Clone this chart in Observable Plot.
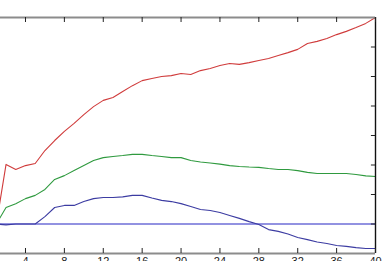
<!DOCTYPE html>
<html>
<head>
<meta charset="utf-8">
<script src="https://cdn.jsdelivr.net/npm/d3@7"></script>
<script src="https://cdn.jsdelivr.net/npm/@observablehq/plot@0.6"></script>
<style>
html, body { margin: 0; padding: 0; overflow: hidden; background: #fff; }
</style>
</head>
<body>
<div id="chart"></div>
<script>
const steps = d3.range(1, 41);
const redSeries = [0,2.02,1.85,1.98,2.05,2.49,2.83,3.14,3.41,3.71,3.98,4.19,4.29,4.49,4.69,4.86,4.93,5.00,5.03,5.10,5.07,5.20,5.27,5.37,5.44,5.41,5.47,5.54,5.61,5.71,5.81,5.92,6.12,6.19,6.29,6.42,6.53,6.66,6.80,7.00];
const greenSeries = [0,0.56,0.69,0.86,0.97,1.17,1.51,1.64,1.81,1.98,2.15,2.25,2.29,2.32,2.36,2.36,2.32,2.29,2.25,2.25,2.15,2.10,2.07,2.03,1.98,1.95,1.93,1.92,1.88,1.85,1.85,1.81,1.75,1.71,1.71,1.71,1.71,1.68,1.63,1.61];
const blueSeries = [0,-0.03,0,0,0,0.25,0.56,0.63,0.63,0.76,0.86,0.90,0.90,0.92,0.97,0.97,0.88,0.80,0.76,0.69,0.59,0.49,0.46,0.39,0.29,0.19,0.08,-0.02,-0.19,-0.25,-0.34,-0.46,-0.53,-0.61,-0.66,-0.73,-0.76,-0.80,-0.83,-0.83];
const baseline = [0];
const xTicks = [4, 8, 12, 16, 20, 24, 28, 32, 36, 40];
const yTicks = [0, 1, 2, 3, 4, 5, 6];
const xDomain = [0, 40];
const yDomain = [-1, 7];
const xTickLen = 0.17; // in y units
const yTickLen = 0.42; // in x units

const toRows = vals => steps.map((s, i) => ({x: s, y: vals[i]}));

const chart = Plot.plot({
  width: 385,
  height: 272,
  marginTop: 17,
  marginBottom: 19,
  marginLeft: 0,
  marginRight: 10,
  style: {fontFamily: "Liberation Sans, Arial, sans-serif", background: "#fff"},
  x: {domain: xDomain, range: [-13.9, 375]},
  y: {domain: yDomain, range: [253, 17], axis: null},
  marks: [
    Plot.ruleY(baseline, {y: d => d, stroke: "#2626c4", strokeWidth: 1.2}),
    Plot.line(toRows(redSeries), {x: "x", y: "y", stroke: "#d03c3c", strokeWidth: 1.1}),
    Plot.line(toRows(greenSeries), {x: "x", y: "y", stroke: "#2f9a3f", strokeWidth: 1.1}),
    Plot.line(toRows(blueSeries), {x: "x", y: "y", stroke: "#3c3ca2", strokeWidth: 1.1}),
    // frame
    Plot.ruleY([yDomain[1]], {y: d => d, stroke: "#8c8c8c", strokeWidth: 1.8}),
    Plot.ruleY([yDomain[0]], {y: d => d, stroke: "#8c8c8c", strokeWidth: 1.8}),
    Plot.ruleX([xDomain[1]], {x: d => d, y1: yDomain[0], y2: yDomain[1], stroke: "#111", strokeWidth: 1.4}),
    // inward ticks
    Plot.ruleX(xTicks, {x: d => d, y1: yDomain[1] - xTickLen, y2: yDomain[1], stroke: "#222"}),
    Plot.ruleX(xTicks, {x: d => d, y1: yDomain[0], y2: yDomain[0] + xTickLen, stroke: "#222"}),
    Plot.ruleY(yTicks, {y: d => d, x1: xDomain[1] - yTickLen, x2: xDomain[1], stroke: "#222"}),
    Plot.axisX(xTicks, {anchor: "bottom", tickSize: 0, tickPadding: 4, fontSize: 11, color: "#222", label: null})
  ]
});
document.getElementById("chart").appendChild(chart);
</script>
</body>
</html>
